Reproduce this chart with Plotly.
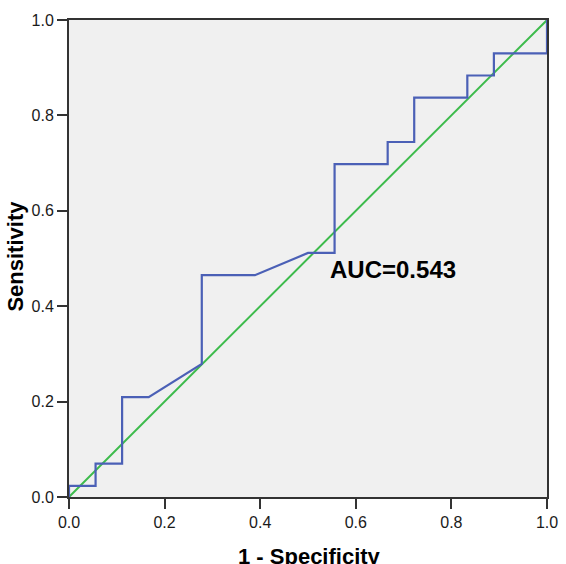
import plotly.graph_objects as go

# ROC curve points (1 - specificity, sensitivity)
fpr = [0.0, 0.0, 0.0556, 0.0556, 0.1111, 0.1111, 0.1667, 0.2778, 0.2778,
       0.3889, 0.5, 0.5556, 0.5556, 0.6667, 0.6667, 0.7222, 0.7222,
       0.8333, 0.8333, 0.8889, 0.8889, 1.0, 1.0]
tpr = [0.0, 0.0233, 0.0233, 0.0698, 0.0698, 0.2093, 0.2093, 0.2791, 0.4651,
       0.4651, 0.5116, 0.5116, 0.6977, 0.6977, 0.7442, 0.7442, 0.8372,
       0.8372, 0.8837, 0.8837, 0.9302, 0.9302, 1.0]
ref_x = [0.0, 1.0]
ref_y = [0.0, 1.0]
tick_vals = [0.0, 0.2, 0.4, 0.6, 0.8, 1.0]
tick_text = ["0.0", "0.2", "0.4", "0.6", "0.8", "1.0"]
auc_label = "AUC=0.543"
x_title = "1 - Specificity"
y_title = "Sensitivity"

fig = go.Figure()
fig.add_trace(go.Scatter(x=ref_x, y=ref_y, mode="lines",
                         line=dict(color="#3DBB4C", width=2), showlegend=False))
fig.add_trace(go.Scatter(x=fpr, y=tpr, mode="lines",
                         line=dict(color="#4B60B6", width=2.2), showlegend=False))

fig.add_annotation(x=0.677, y=0.476, xref="x", yref="y", text=auc_label,
                   showarrow=False, font=dict(family="Arial", size=24, color="black", weight="bold"))

title_font = dict(family="Arial", size=22, color="black", weight="bold")
fig.add_annotation(x=0.503, y=-0.124, xref="paper", yref="paper", text=x_title,
                   showarrow=False, xanchor="center", yanchor="middle", font=title_font)
fig.add_annotation(x=-0.112, y=0.505, xref="paper", yref="paper", text=y_title,
                   showarrow=False, xanchor="center", yanchor="middle", textangle=-90,
                   font=title_font)

axis_common = dict(range=[0, 1], tickvals=tick_vals, ticktext=tick_text,
                   showgrid=False, zeroline=False, showline=True, mirror=True,
                   linecolor="#333333", linewidth=2, ticks="outside", ticklen=10,
                   tickwidth=2, tickcolor="#333333",
                   tickfont=dict(family="Arial", size=16, color="#1a1a1a"))

fig.update_xaxes(**axis_common)
fig.update_yaxes(**axis_common)

fig.update_layout(width=566, height=564,
                  margin=dict(l=69, r=19, t=20, b=67, autoexpand=False),
                  paper_bgcolor="white", plot_bgcolor="#F0F0F0")

fig.write_html("out.html")
